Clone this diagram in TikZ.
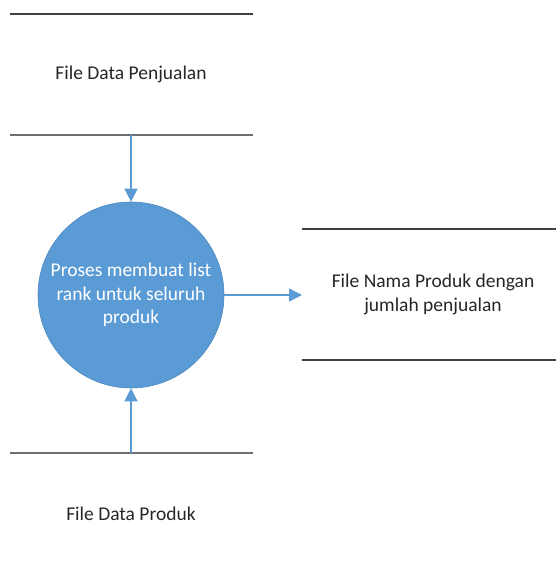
\documentclass[tikz,border=0pt]{standalone}
\usepackage{fontspec}
\setmainfont{Carlito}
\usetikzlibrary{arrows.meta}
\definecolor{procblue}{HTML}{5B9BD5}
\definecolor{procedge}{HTML}{4A86BE}
\definecolor{storeline}{HTML}{404040}
\definecolor{storeline2}{HTML}{6E6E6E}
\begin{document}
\begin{tikzpicture}[x=1pt,y=-1pt,
  storeedge/.style={line width=2pt,draw=storeline},
  storeedgelight/.style={line width=2.2pt,draw=storeline2},
  label/.style={font=\fontsize{19.5}{24}\selectfont,text=black!85,align=center,inner sep=0pt},
  flow/.style={draw=procblue,line width=1.3pt,-{Triangle[length=13pt,width=13pt]}},
  proc/.style={circle,fill=procblue,draw=procedge,line width=0.6pt,minimum size=186pt,inner sep=0pt,
     text=white,align=center,font=\fontsize{19.5}{23.5}\selectfont}]
\useasboundingbox (0,0) rectangle (556,569);
% top store
\coordinate (t1) at (10,14); \coordinate (t2) at (253,14);
\coordinate (t3) at (10,135); \coordinate (t4) at (253,135);
\draw[storeedge] (t1) -- (t2);
\draw[storeedgelight] (t3) -- (t4);
\node[label] (tlab) at (131,74) {File Data Penjualan};
% process
\node[proc] (p) at (131,295) {Proses membuat list\\rank untuk seluruh\\produk};
% right store
\coordinate (r1) at (302,229); \coordinate (r2) at (556,229);
\coordinate (r3) at (302,360); \coordinate (r4) at (556,360);
\draw[storeedge] (r1) -- (r2);
\draw[storeedge] (r3) -- (r4);
\node[label] (rlab) at (433,294) {File Nama Produk dengan\\jumlah penjualan};
% bottom store
\coordinate (b1) at (10,453); \coordinate (b2) at (253,453);
\draw[storeedgelight] (b1) -- (b2);
\node[label] (blab) at (131,514) {File Data Produk};
% flows
\coordinate (tin) at (131,135);
\coordinate (bin) at (131,453);
\coordinate (rout) at (302,295);
\draw[flow] (tin) -- (p.north);
\draw[flow] (bin) -- (p.south);
\draw[flow] (p.east) -- (rout);
\end{tikzpicture}
\end{document}
